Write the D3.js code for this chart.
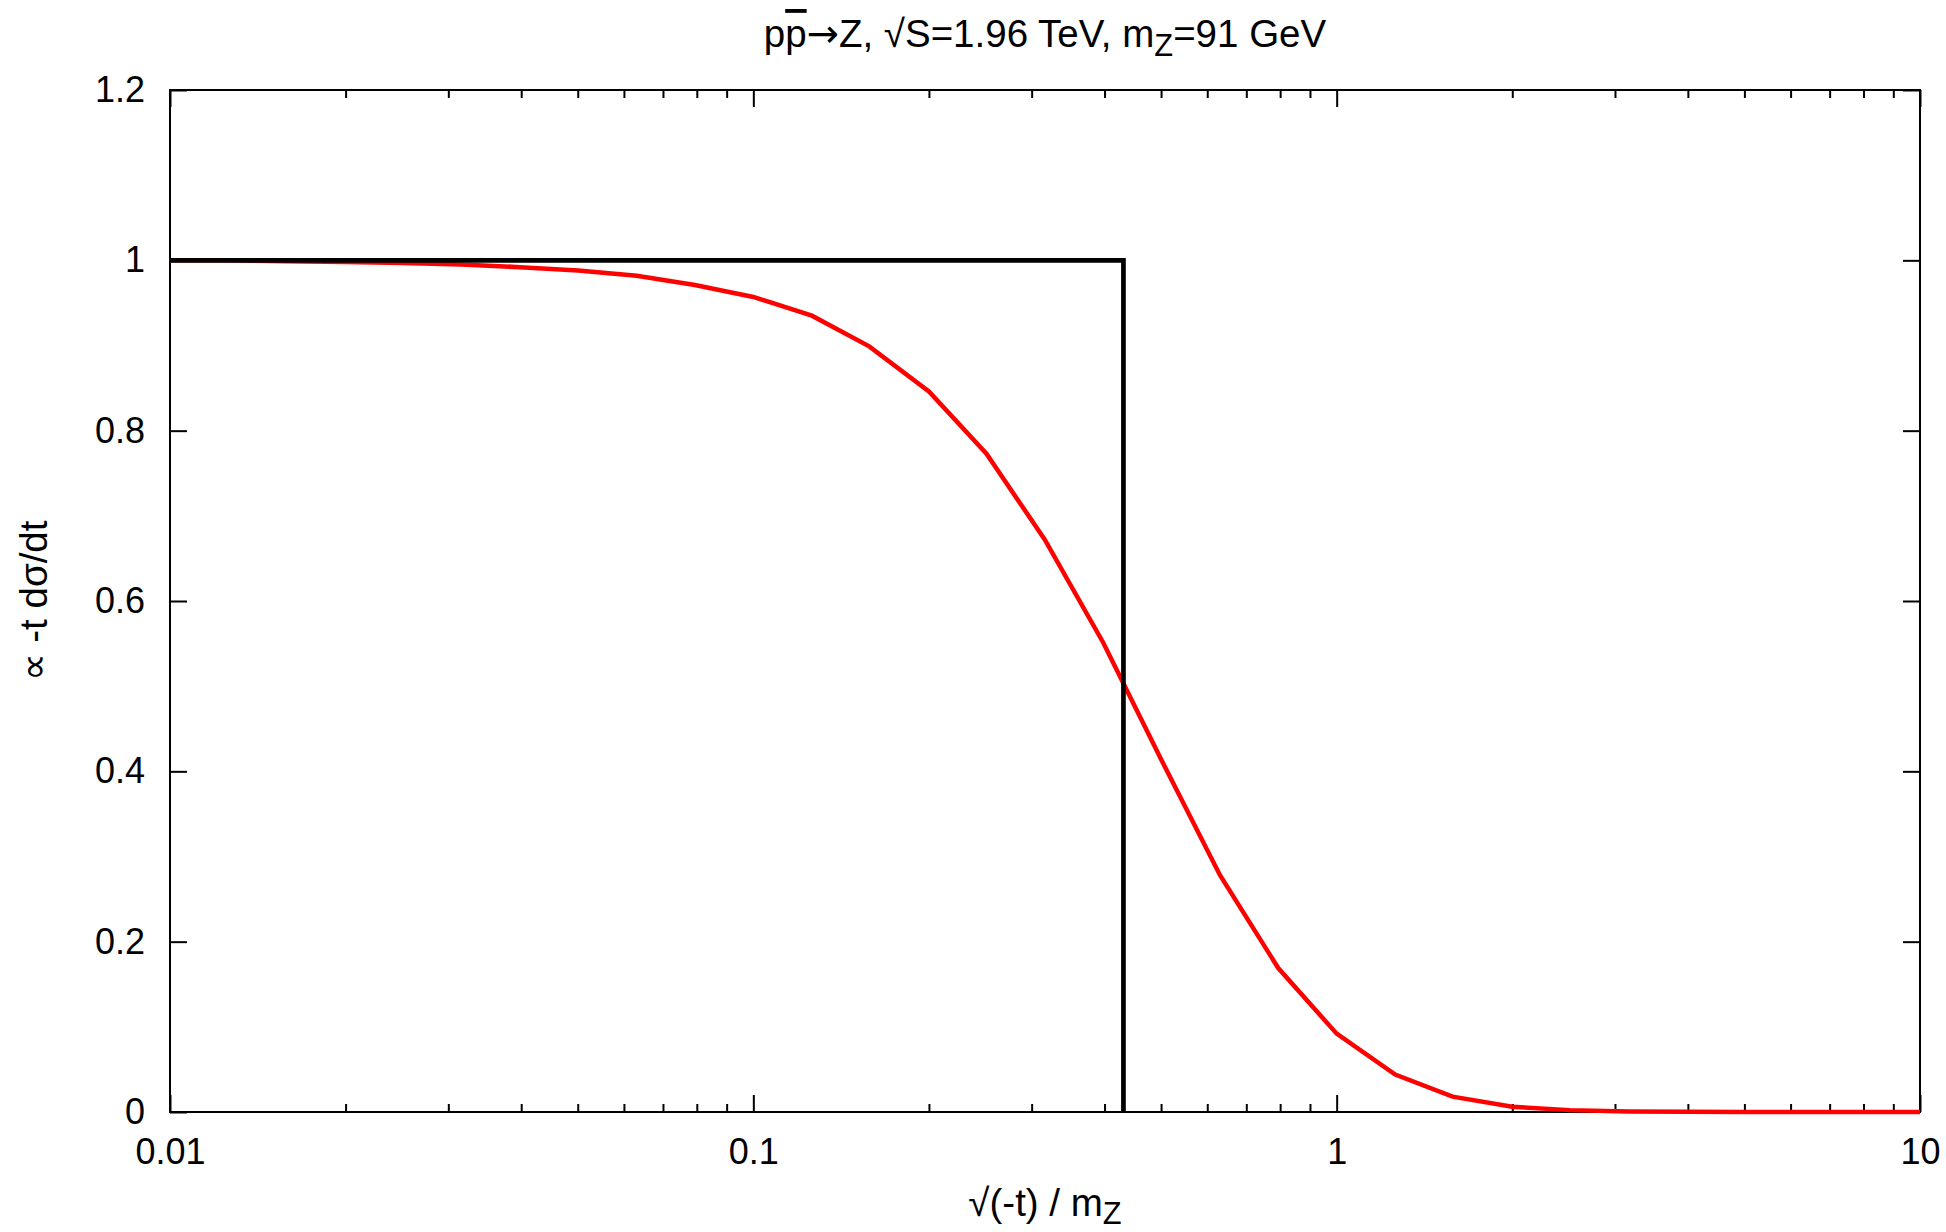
<!DOCTYPE html>
<html lang="en">
<head>
    <meta charset="UTF-8">
    <title>pp -> Z</title>
    <script src="https://cdn.jsdelivr.net/npm/d3@7"></script>
    <style>
        body { margin: 0; background: #fff; }
        text { font-family: "Liberation Sans", Arial, sans-serif; }
    </style>
</head>
<body>

<script>
    // red curve, sampled every 0.1 decade
    var curveX = [0.01, 0.0126, 0.0158, 0.02, 0.0251, 0.0316, 0.0398, 0.0501, 0.0631, 0.0794,
                  0.1, 0.126, 0.158, 0.2, 0.251, 0.316, 0.398, 0.501, 0.631, 0.794,
                  1, 1.26, 1.58, 2, 2.51, 3.16, 3.98, 5.01, 6.31, 7.94, 10];
    var curveY = [1.000, 1.000, 0.999, 0.998, 0.997, 0.995, 0.992, 0.988, 0.982, 0.971,
                  0.957, 0.935, 0.899, 0.846, 0.773, 0.672, 0.551, 0.413, 0.278, 0.169,
                  0.092, 0.044, 0.018, 0.0062, 0.0022, 0.0007, 0.0002, 0.0001, 0, 0, 0];
    // black step
    var stepX = [0.01, 0.431, 0.431];
    var stepY = [1, 1, 0];

    var xTicks = [0.01, 0.1, 1, 10];
    var xTickLabels = ["0.01", "0.1", "1", "10"];
    var yTicks = [0, 0.2, 0.4, 0.6, 0.8, 1, 1.2];
    var yTickLabels = ["0", "0.2", "0.4", "0.6", "0.8", "1", "1.2"];

    var width = 1946;
    var height = 1232;
    var padL = 170, padR = 1920, padT = 90, padB = 1112;

    var svg = d3.select('body')
            .append('svg')
            .attr('width', width)
            .attr('height', height);

    var x = d3.scaleLog().domain([0.01, 10]).range([padL, padR]);
    var y = d3.scaleLinear().domain([0, 1.2]).range([padB, padT]);

    var fontSize = 36;
    var labelSize = 38.5;

    // minor ticks from the log scale
    var xMinor = x.ticks().filter(function (d) {
        return xTicks.every(function (t) { return Math.abs(d / t - 1) > 1e-6; });
    });

    function drawAxis(axis, tr) {
        var g = svg.append('g').attr('transform', tr).call(axis);
        g.select('.domain').remove();
        g.selectAll('line').attr('stroke', '#000').attr('stroke-width', 2);
        g.selectAll('text').attr('font-size', fontSize).attr('fill', '#000')
                .attr('font-family', '"Liberation Sans", Arial, sans-serif');
        return g;
    }

    // bottom axis (ticks inward)
    var gx = drawAxis(d3.axisBottom(x).tickValues(xTicks)
            .tickFormat(function (d, i) { return xTickLabels[i]; })
            .tickSizeInner(-17).tickSizeOuter(0).tickPadding(26), 'translate(0,' + padB + ')');
    gx.selectAll('text').attr('dy', '0.71em').attr('y', 26);
    drawAxis(d3.axisBottom(x).tickValues(xMinor).tickFormat('')
            .tickSizeInner(-8).tickSizeOuter(0), 'translate(0,' + padB + ')');
    // top mirror
    drawAxis(d3.axisTop(x).tickValues(xTicks).tickFormat('')
            .tickSizeInner(-17).tickSizeOuter(0), 'translate(0,' + padT + ')');
    drawAxis(d3.axisTop(x).tickValues(xMinor).tickFormat('')
            .tickSizeInner(-8).tickSizeOuter(0), 'translate(0,' + padT + ')');

    // left axis
    var gy = drawAxis(d3.axisLeft(y).tickValues(yTicks)
            .tickFormat(function (d, i) { return yTickLabels[i]; })
            .tickSizeInner(-17).tickSizeOuter(0).tickPadding(25), 'translate(' + padL + ',0)');
    gy.selectAll('text').attr('x', -25);
    // right mirror
    drawAxis(d3.axisRight(y).tickValues(yTicks).tickFormat('')
            .tickSizeInner(-17).tickSizeOuter(0), 'translate(' + padR + ',0)');

    // frame
    svg.append('rect')
            .attr('x', padL).attr('y', padT)
            .attr('width', padR - padL).attr('height', padB - padT)
            .attr('fill', 'none').attr('stroke', '#000').attr('stroke-width', 2);

    var line = d3.line()
            .x(function (d) { return x(d[0]); })
            .y(function (d) { return y(d[1]); });

    svg.append('path')
            .datum(d3.zip(curveX, curveY))
            .attr('fill', 'none')
            .attr('stroke', '#ff0000')
            .attr('stroke-width', 4.5)
            .attr('stroke-linejoin', 'miter')
            .attr('d', line);

    svg.append('path')
            .datum(d3.zip(stepX, stepY))
            .attr('fill', 'none')
            .attr('stroke', '#000')
            .attr('stroke-width', 4.7)
            .attr('stroke-linejoin', 'miter')
            .attr('d', line);

    // title
    var title = svg.append('text')
            .attr('x', (padL + padR) / 2).attr('y', 47)
            .attr('text-anchor', 'middle')
            .attr('font-size', labelSize);
    title.append('tspan').text('p');
    title.append('tspan').style('text-decoration', 'overline').text('p');
    title.append('tspan').attr('font-family', '"DejaVu Sans"').text('\u2192');
    title.append('tspan').text('Z, \u221AS=1.96 TeV, m');
    title.append('tspan').attr('font-size', labelSize * 0.8).attr('dy', 9).text('Z');
    title.append('tspan').attr('dy', -9).text('=91 GeV');

    // x label
    var xl = svg.append('text')
            .attr('x', (padL + padR) / 2).attr('y', 1216)
            .attr('text-anchor', 'middle')
            .attr('font-size', labelSize);
    xl.append('tspan').text('\u221A(-t) / m');
    xl.append('tspan').attr('font-size', labelSize * 0.8).attr('dy', 8).text('Z');

    // y label
    svg.append('text')
            .attr('transform', 'translate(47,' + ((padT + padB) / 2) + ') rotate(-90)')
            .attr('text-anchor', 'middle')
            .attr('font-size', labelSize)
            .text('\u221D -t d\u03C3/dt');
</script>
</body>
</html>
